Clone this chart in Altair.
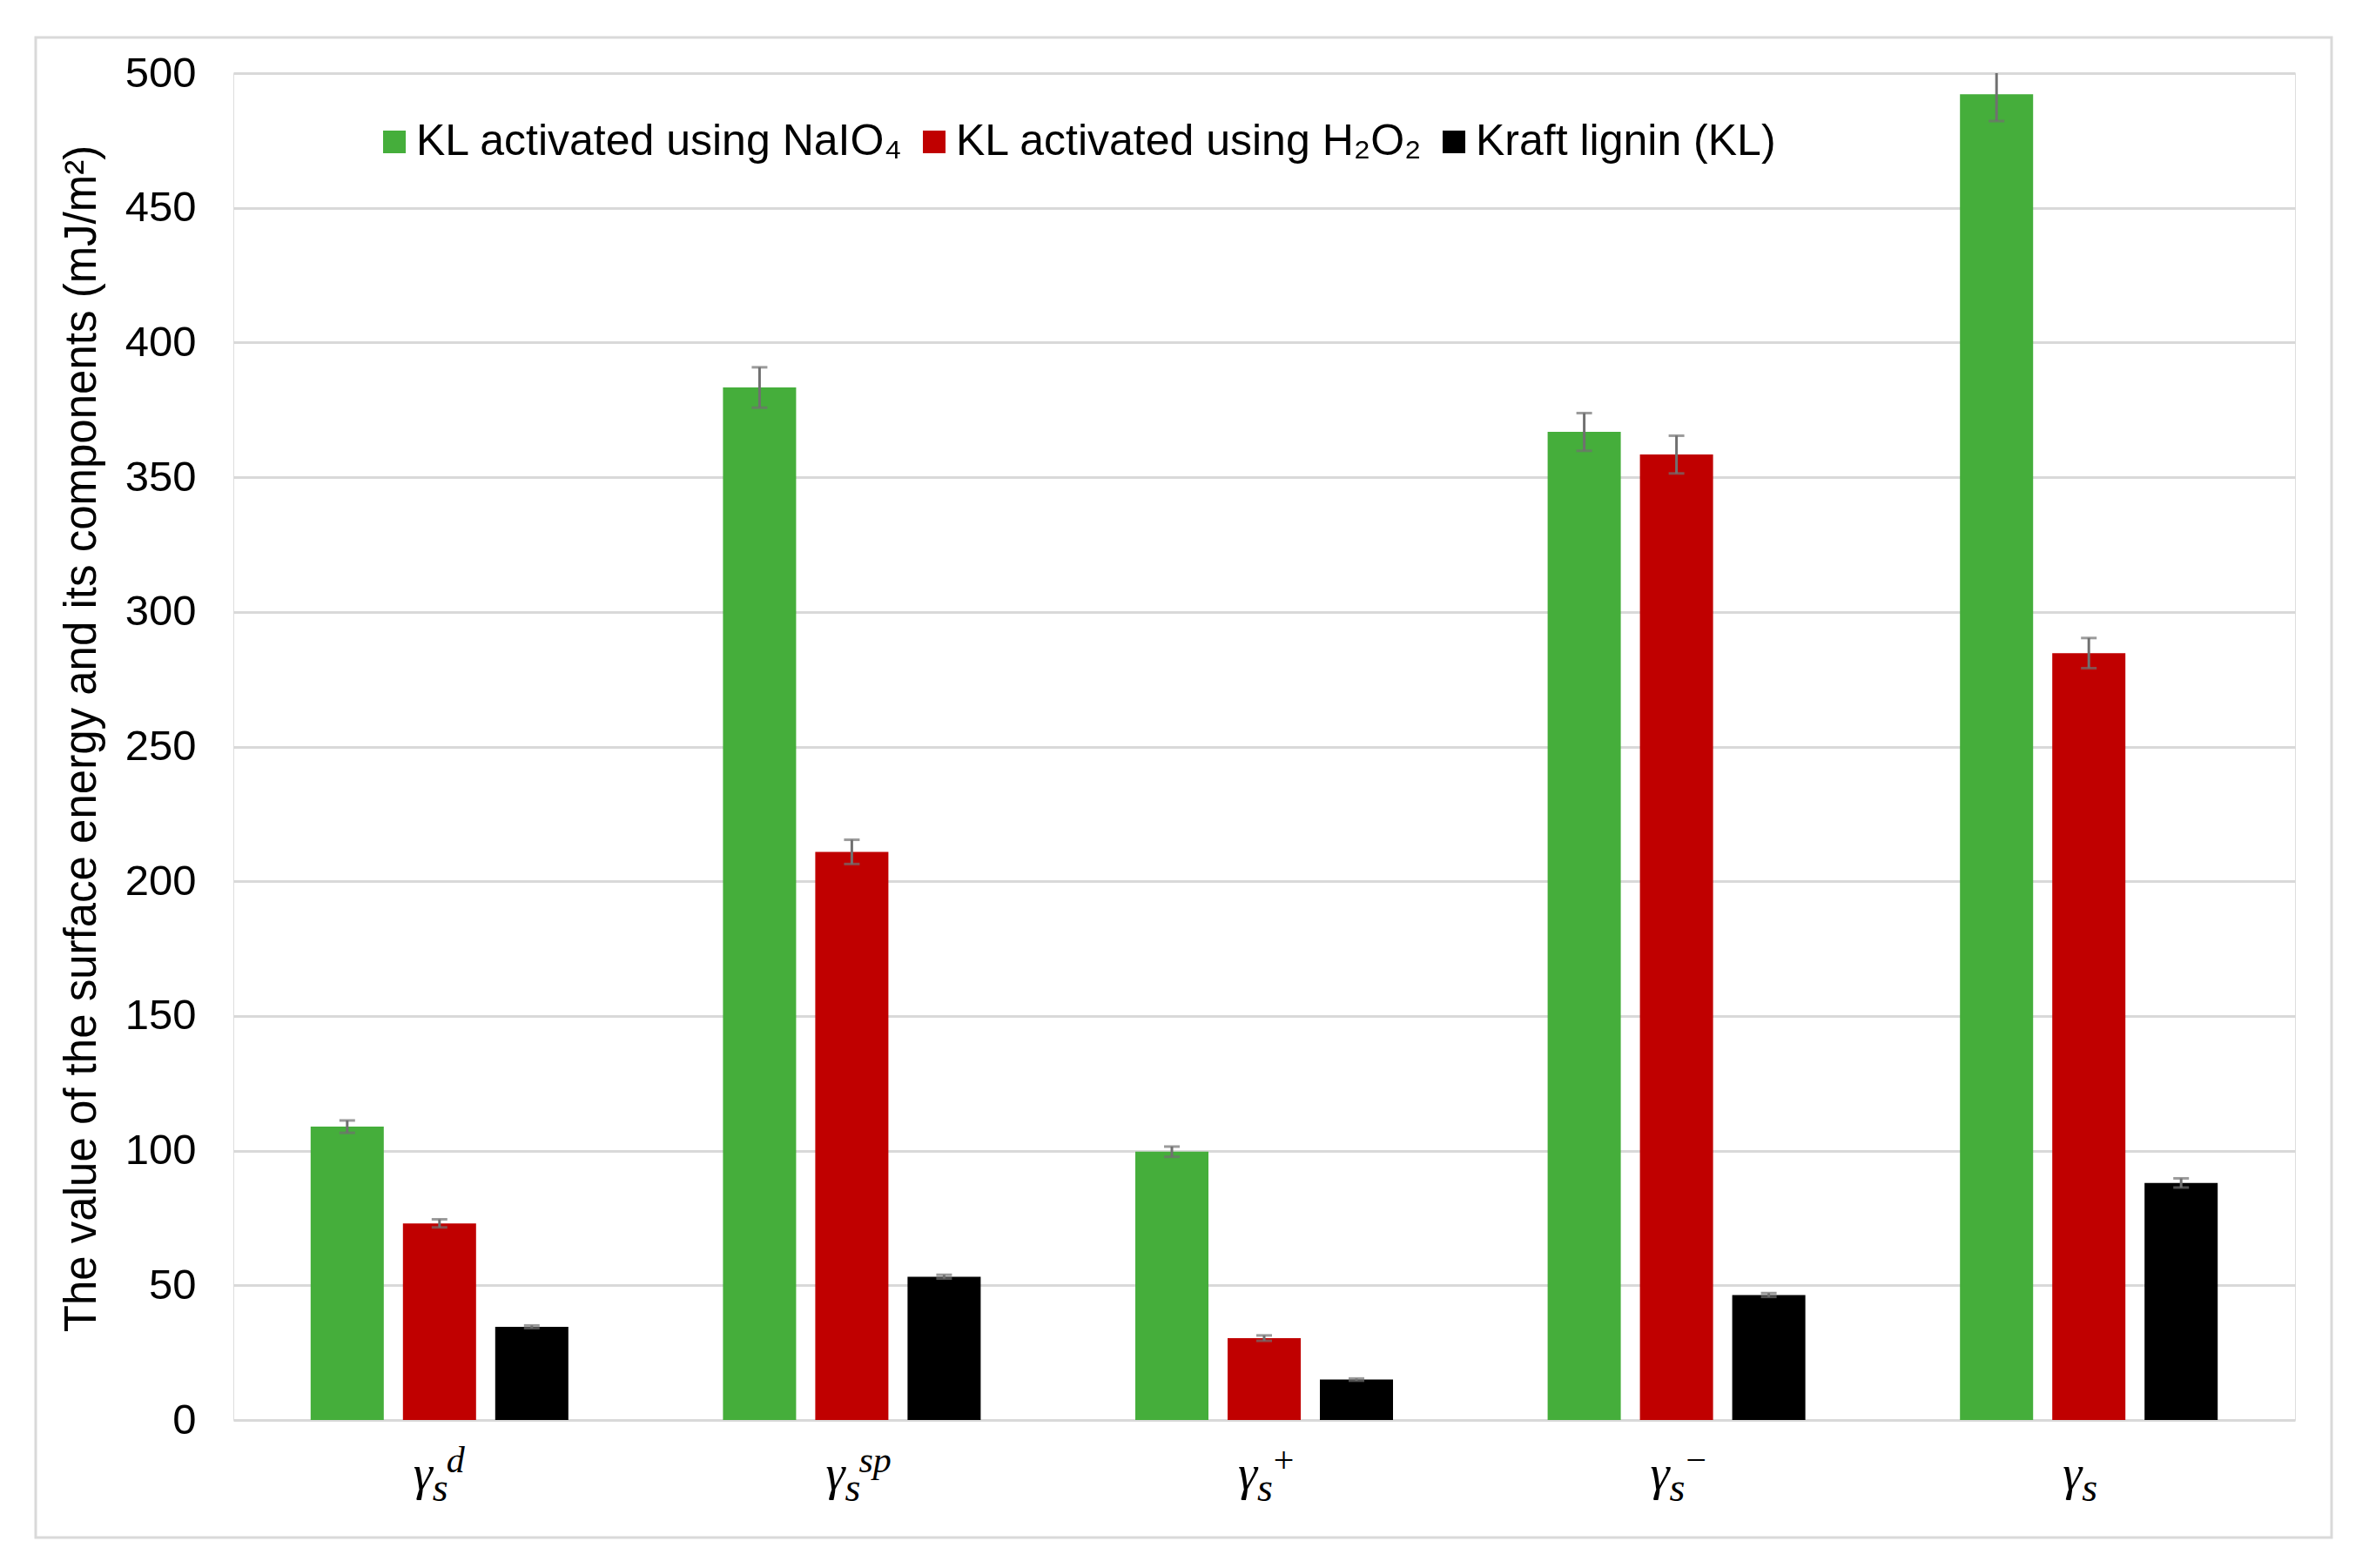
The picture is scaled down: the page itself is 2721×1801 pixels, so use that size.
import altair as alt
import pandas as pd

# ---- data ----
categories = ["gd", "gsp", "gplus", "gminus", "gs"]
label_base = ["γ", "γ", "γ", "γ", "γ"]
label_sub = ["s", "s", "s", "s", "s"]
label_sup = ["d", "sp", "+", "−", ""]

series = ["KL activated using NaIO₄", "KL activated using H₂O₂", "Kraft lignin (KL)"]
colors = ["#45AE3B", "#C00000", "#000000"]

naio4 = [108.9, 383.3, 99.6, 366.8, 492.2]
h2o2 = [73.0, 210.9, 30.4, 358.4, 284.7]
kraft = [34.6, 53.2, 15.0, 46.4, 88.0]

err_naio4 = [2.3, 7.5, 1.9, 7.0, 10.0]
err_h2o2 = [1.5, 4.5, 1.0, 7.0, 5.6]
err_kraft = [0.5, 0.7, 0.4, 0.7, 1.7]

y_ticks = [0, 50, 100, 150, 200, 250, 300, 350, 400, 450, 500]

rows = []
for s, vals, errs in zip(series, [naio4, h2o2, kraft], [err_naio4, err_h2o2, err_kraft]):
    for c, v, e in zip(categories, vals, errs):
        rows.append({"cat": c, "series": s, "value": v, "lo": v - e, "hi": v + e})
df = pd.DataFrame(rows)

lab_df = pd.DataFrame({"cat": categories, "base": label_base, "sub": label_sub, "sup": label_sup})

W, H = 2368, 1547

x_enc = alt.X("cat:N", sort=categories,
              scale=alt.Scale(paddingInner=0.375, paddingOuter=0.1875),
              axis=alt.Axis(labels=False, ticks=False, domain=False, title=None, grid=False))
xo_enc = alt.XOffset("series:N", sort=series,
                     scale=alt.Scale(paddingInner=0.2075, paddingOuter=0))
y_scale = alt.Scale(domain=[0, 500], nice=False)

base = alt.Chart(df)

bars = base.mark_bar().encode(
    x=x_enc,
    xOffset=xo_enc,
    y=alt.Y("value:Q", scale=y_scale,
            axis=alt.Axis(values=y_ticks, domain=False, ticks=False, labelFontSize=49,
                          labelPadding=43, labelColor="#000000", labelFont="Liberation Sans",
                          grid=True, gridColor="#D9D9D9", gridWidth=3,
                          title="The value of the surface energy and its components (mJ/m²)",
                          titleFontSize=51, titleFont="Liberation Sans", titleFontWeight="normal",
                          titleColor="#000000", titleAngle=270, titleX=-159, titleY=764,
                          titleAlign="center", titleBaseline="alphabetic")),
    color=alt.Color("series:N", sort=series,
                    scale=alt.Scale(domain=series, range=colors),
                    legend=alt.Legend(title=None, orient="none", legendX=160, legendY=54,
                                      direction="horizontal", symbolType="square",
                                      symbolSize=676, symbolStrokeWidth=0,
                                      labelFontSize=50, labelFont="Liberation Sans",
                                      labelColor="#000000", labelLimit=2000,
                                      columnPadding=10, labelOffset=0, padding=0)),
)

err_rule = base.mark_rule(color="#707070", strokeWidth=3, clip=True).encode(
    x=alt.X("cat:N", sort=categories), xOffset=xo_enc,
    y=alt.Y("lo:Q", scale=y_scale), y2="hi:Q")
err_lo = base.mark_tick(color="#707070", size=18, thickness=3, clip=True).encode(
    x=alt.X("cat:N", sort=categories), xOffset=xo_enc,
    y=alt.Y("lo:Q", scale=y_scale))
err_hi = base.mark_tick(color="#707070", size=18, thickness=3, clip=True).encode(
    x=alt.X("cat:N", sort=categories), xOffset=xo_enc,
    y=alt.Y("hi:Q", scale=y_scale))

lab = alt.Chart(lab_df)
t_base = lab.mark_text(font="Liberation Serif", fontStyle="italic", fontSize=56,
                       align="left", baseline="alphabetic", dx=-30, color="#000000").encode(
    x=alt.X("cat:N", sort=categories), y=alt.value(H + 80), text="base:N")
t_sub = lab.mark_text(font="Liberation Serif", fontStyle="italic", fontSize=46,
                      align="left", baseline="alphabetic", dx=-8, color="#000000").encode(
    x=alt.X("cat:N", sort=categories), y=alt.value(H + 93), text="sub:N")
t_sup = lab.mark_text(font="Liberation Serif", fontStyle="italic", fontSize=42,
                      align="left", baseline="alphabetic", dx=8, color="#000000").encode(
    x=alt.X("cat:N", sort=categories), y=alt.value(H + 60), text="sup:N")

frame = alt.Chart(pd.DataFrame({"f": [0]})).mark_rect(
    fill=None, stroke="#D9D9D9", strokeWidth=3).encode(
    x=alt.value(-227), x2=alt.value(2410), y=alt.value(-41), y2=alt.value(1682))

chart = alt.layer(frame, bars, err_rule, err_lo, err_hi, t_base, t_sub, t_sup).properties(
    width=W, height=H,
    autosize=alt.AutoSizeParams(type="none"),
    padding={"left": 260, "top": 76, "right": 55, "bottom": 160},
).configure_view(stroke=None).configure(background="white")

chart.save("out.html", embed_options={"renderer": "svg", "actions": False})
